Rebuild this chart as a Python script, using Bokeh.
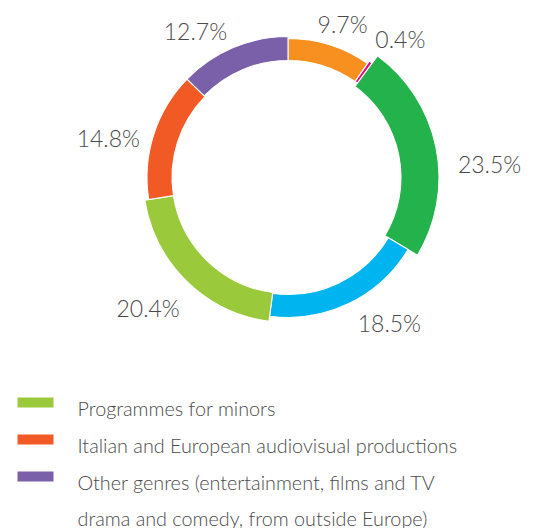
import numpy as np
from bokeh.plotting import figure
from bokeh.models import Range1d, ColumnDataSource
from bokeh.core.properties import value
from bokeh.embed import file_html
from bokeh.resources import INLINE

# ---------------- data ----------------
categories = ["Category A", "Category B", "Category C", "Category D",
              "Programmes for minors",
              "Italian and European audiovisual productions",
              "Other genres"]
shares = [9.7, 0.4, 23.5, 18.5, 20.4, 14.8, 12.7]
pct_labels = ["9.7%", "0.4%", "23.5%", "18.5%", "20.4%", "14.8%", "12.7%"]
colors = ["#F7901E", "#E5097F", "#23B24B", "#00B5EF", "#9ACA3C", "#F15A24", "#7A5FA9"]

legend_lines = ["Programmes for minors",
                "Italian and European audiovisual productions",
                "Other genres (entertainment, films and TV",
                "drama and comedy, from outside Europe)"]
legend_colors = ["#9ACA3C", "#F15A24", "#7A5FA9", None]

# ---------------- layout ----------------
W, H = 537, 528
cx, cy = 287.5, H - 177.0
inner_r = [117, 117, 113, 117, 116, 116, 117]
outer_r = [139, 142, 151, 140, 145, 141, 141]
label_r = [163, 178, 202, 177, 191, 184, 173]
label_shift_deg = [-2.1, -3.5, -7.6, 9.2, -2.8, 5.2, 9.5]

vals = np.array(shares, dtype=float)
cum = np.concatenate([[0.0], np.cumsum(vals)]) / vals.sum()
start = np.pi / 2 - 2 * np.pi * cum[:-1]
end = np.pi / 2 - 2 * np.pi * cum[1:]
mid = (start + end) / 2
la = mid + np.radians(label_shift_deg)
lx = cx + np.array(label_r) * np.cos(la)
ly = cy + np.array(label_r) * np.sin(la)

src = ColumnDataSource(dict(
    cat=categories, share=shares, start=start, end=end,
    inner=inner_r, outer=outer_r, color=colors,
))
lab_src = ColumnDataSource(dict(x=lx, y=ly, text=pct_labels))

p = figure(width=W, height=H, x_range=Range1d(0, W), y_range=Range1d(0, H),
           output_backend="svg", toolbar_location=None, min_border=0,
           x_axis_location=None, y_axis_location=None)
p.grid.visible = False
p.outline_line_color = None
p.background_fill_color = "white"
p.border_fill_color = "white"

p.annular_wedge(x=cx, y=cy, inner_radius="inner", outer_radius="outer",
                start_angle="start", end_angle="end", direction="clock",
                fill_color="color", line_color="white", line_width=1.1, source=src)

LIGHT = value("Lato Light, Lato")

p.text(x="x", y="y", text="text", source=lab_src, text_font=LIGHT,
       text_font_size="23px", text_color="#4a4a4a", text_align="center",
       text_baseline="middle")

# legend
row_baselines = [407, 444, 481, 517]
sw_x0, sw_x1 = 17, 53
sw_items = [(i, c) for i, c in enumerate(legend_colors) if c is not None]
sw_src = ColumnDataSource(dict(
    left=[sw_x0] * len(sw_items), right=[sw_x1] * len(sw_items),
    top=[H - (row_baselines[i] - 10) for i, _ in sw_items],
    bottom=[H - (row_baselines[i]) for i, _ in sw_items],
    color=[c for _, c in sw_items],
))
p.quad(left="left", right="right", top="top", bottom="bottom", fill_color="color",
       line_color=None, source=sw_src)

leg_src = ColumnDataSource(dict(x=[77] * len(legend_lines),
                                y=[H - b for b in row_baselines],
                                text=legend_lines))
p.text(x="x", y="y", text="text", source=leg_src, text_font=LIGHT,
       text_font_size="19.8px", text_color="#4a4a4a", text_align="left",
       text_baseline="alphabetic")

open("out.html", "w").write(file_html(p, INLINE))
